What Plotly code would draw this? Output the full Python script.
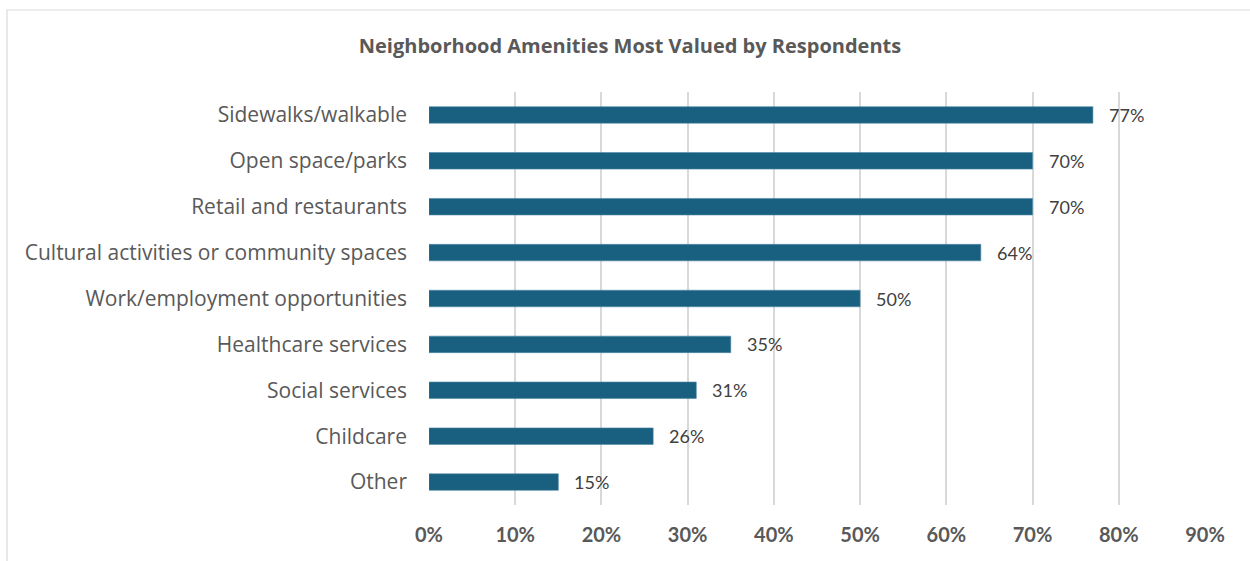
import plotly.graph_objects as go

categories = [
    "Sidewalks/walkable",
    "Open space/parks",
    "Retail and restaurants",
    "Cultural activities or community spaces",
    "Work/employment opportunities",
    "Healthcare services",
    "Social services",
    "Childcare",
    "Other",
]
values = [0.77, 0.70, 0.70, 0.64, 0.50, 0.35, 0.31, 0.26, 0.15]
tick_vals = [0, 0.1, 0.2, 0.3, 0.4, 0.5, 0.6, 0.7, 0.8, 0.9]
tick_text = ["0%", "10%", "20%", "30%", "40%", "50%", "60%", "70%", "80%", "90%"]

FONT = "Lato, Open Sans, sans-serif"
LABEL_FONT = "Open Sans, Lato, sans-serif"
GREY = "#595959"
BAR = "#185F80"

fig = go.Figure()
fig.add_trace(go.Bar(
    x=values,
    y=categories,
    orientation="h",
    marker=dict(color=BAR, line=dict(color="#4f8aa6", width=0.6)),
    hoverinfo="skip",
))

# value labels to the right of each bar
for cat, v in zip(categories, values):
    fig.add_annotation(
        x=v, y=cat, xref="x", yref="y",
        text=f"{round(v * 100)}%",
        showarrow=False, xanchor="left", xshift=14,
        font=dict(family=FONT, size=18, color="#404040"),
    )

# light chart frame
fig.add_shape(
    type="rect", xref="paper", yref="paper",
    x0=-0.5438, x1=2.0, y0=-1.0, y1=1.1985,
    line=dict(color="#d9d9d9", width=1.2), fillcolor="rgba(0,0,0,0)",
    layer="below",
)

fig.update_layout(
    width=1250, height=561,
    margin=dict(l=429, r=45, t=92, b=56),
    paper_bgcolor="white", plot_bgcolor="white",
    bargap=0.64,
    showlegend=False,
    title=dict(
        text="<b>Neighborhood Amenities Most Valued by Respondents</b>",
        x=0.504, xanchor="center", y=1 - 46 / 561, yanchor="middle",
        font=dict(family=LABEL_FONT, size=20, color=GREY),
    ),
    xaxis=dict(
        range=[0, 0.9],
        tickvals=tick_vals, ticktext=tick_text,
        showgrid=True, gridcolor="#d9d9d9", gridwidth=1.8,
        zeroline=False, showline=False,
        tickfont=dict(family=FONT, size=20, color=GREY, weight="bold"),
        ticklabelstandoff=16,
    ),
    yaxis=dict(
        autorange="reversed",
        showgrid=False, zeroline=False, showline=False,
        tickfont=dict(family=LABEL_FONT, size=21, color=GREY),
        ticklabelstandoff=21,
    ),
)

fig.write_html("out.html")
